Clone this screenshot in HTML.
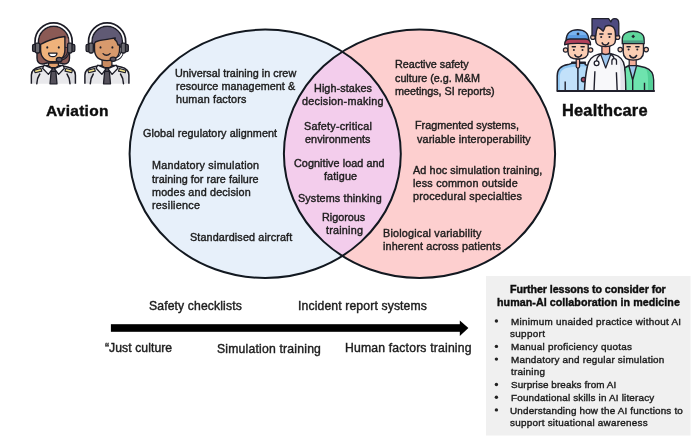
<!DOCTYPE html>
<html><head><meta charset="utf-8"><style>
html,body{margin:0;padding:0;background:#fff;}
body{width:700px;height:440px;position:relative;overflow:hidden;font-family:"Liberation Sans", sans-serif;}
.bg{position:absolute;left:0;top:0;}
.t{position:absolute;white-space:nowrap;-webkit-text-stroke:0.4px currentColor;will-change:transform;}
</style></head><body>
<svg class="bg" width="700" height="440" viewBox="0 0 700 440">
<defs><clipPath id="cl"><ellipse cx="265.2" cy="153.8" rx="135.6" ry="124.2"/></clipPath></defs>
<ellipse cx="265.2" cy="153.8" rx="135.6" ry="124.2" fill="#e7f0fa"/>
<ellipse cx="419.5" cy="153.8" rx="135.6" ry="124.2" fill="#fdcfcf"/>
<ellipse cx="419.5" cy="153.8" rx="135.6" ry="124.2" fill="#f3cdec" clip-path="url(#cl)"/>
<ellipse cx="265.2" cy="153.8" rx="135.6" ry="124.2" fill="none" stroke="#121820" stroke-width="2.0"/>
<ellipse cx="419.5" cy="153.8" rx="135.6" ry="124.2" fill="none" stroke="#121820" stroke-width="2.0"/>
<rect x="110.9" y="324.2" width="350" height="7.6" fill="#000"/>
<path d="M459.8,320.4 L468.4,328.1 L459.8,335.9 Z" fill="#000"/>
<rect x="486" y="276" width="204.5" height="159.5" fill="#f0f0f0"/>
<circle cx="496.4" cy="321.00" r="1.7" fill="#222"/><circle cx="496.4" cy="346.40" r="1.7" fill="#222"/><circle cx="496.4" cy="359.10" r="1.7" fill="#222"/><circle cx="496.4" cy="384.50" r="1.7" fill="#222"/><circle cx="496.4" cy="397.20" r="1.7" fill="#222"/><circle cx="496.4" cy="409.90" r="1.7" fill="#222"/>
<g transform="translate(0,0)"><path d="M31.4,83.8 L31.4,75 C31.4,70.5 34.5,68.3 39.5,67.1 L46.5,65.4 L60.5,65.4 L67.5,67.1 C72.5,68.3 75.4,70.5 75.4,75 L75.4,83.8" fill="#e9e9ec" stroke="#1c1c26" stroke-width="1.5"/><path d="M32.8,78 C32.8,74 34.5,72.5 38.5,73 C37.4,76 36.8,79 36.8,83.2 L32.8,83.2 Z" fill="#dcdce0"/><path d="M74,78 C74,74 72.3,72.5 68.3,73 C69.4,76 70,79 70,83.2 L74,83.2 Z" fill="#dcdce0"/><path d="M39.8,74 C38,76.5 37,79.5 36.8,83.8 M67,74 C68.8,76.5 69.8,79.5 70,83.8" stroke="#1c1c26" stroke-width="1.5" fill="none" stroke-linecap="round"/><path d="M34.3,70.2 L41,68.5 L41.8,71.1 L35.1,72.8 Z" fill="#f2e38c" stroke="#1c1c26" stroke-width="1.1" stroke-linejoin="round"/><path d="M72.5,70.2 L65.8,68.5 L65,71.1 L71.7,72.8 Z" fill="#f2e38c" stroke="#1c1c26" stroke-width="1.1" stroke-linejoin="round"/><path d="M48.6,57 L58.4,57 L58.4,66 L53.5,69 L48.6,66 Z" fill="#e3a06c" stroke="#1c1c26" stroke-width="1.3"/><path d="M51.2,70.8 L55.8,70.8 L57,83.8 L50,83.8 Z" fill="#56525c" stroke="#1c1c26" stroke-width="1.3" stroke-linejoin="round"/><path d="M50.8,67.6 L56.2,67.6 L55.4,71.3 L51.6,71.3 Z" fill="#56525c" stroke="#1c1c26" stroke-width="1.2" stroke-linejoin="round"/><path d="M44.2,65.2 L52.6,68.6 L48.4,74.4 L42.6,68.2 Z" fill="#f6f6f8" stroke="#1c1c26" stroke-width="1.3" stroke-linejoin="round"/><path d="M62.8,65.2 L54.4,68.6 L58.6,74.4 L64.4,68.2 Z" fill="#f6f6f8" stroke="#1c1c26" stroke-width="1.3" stroke-linejoin="round"/><path d="M37,44 L37,58 C37,62 39,64.2 43,64 L47,63 L60,63 L64,64 C67.5,64.2 69.5,62 69.5,58 L69.5,44 Z" fill="#8b5a55" stroke="#1c1c26" stroke-width="1.4" stroke-linejoin="round"/><path d="M38.5,47 L38.5,41.5 A15.2,15.2 0 0 1 68.9,41.5 L68.9,47 Z" fill="#8b5a55" stroke="#1c1c26" stroke-width="1.4"/><path d="M61.5,38.2 C64,40 65.2,43 65.4,47 L68.2,47 L68.2,38.6 Z" fill="#a3716a"/><path d="M61.9,40.6 C63,41.6 63.9,43 64.4,44.5" stroke="#1c1c26" stroke-width="1.1" fill="none" stroke-linecap="round"/><path d="M40.6,44.3 C47.5,40.6 58.5,37.3 64.9,36.5 L64.9,50 C64.9,57.5 59.8,61.8 52.6,61.8 C45.5,61.8 40.6,57.5 40.6,50 Z" fill="#efb27b" stroke="#1c1c26" stroke-width="1.4" stroke-linejoin="round"/><ellipse cx="47.3" cy="47.4" rx="0.95" ry="1.2" fill="#1c1c26"/><ellipse cx="58.8" cy="47.4" rx="0.95" ry="1.2" fill="#1c1c26"/><path d="M48.6,53.2 L57,53.2 C56.8,55.6 55,56.7 52.8,56.7 C50.6,56.7 48.8,55.6 48.6,53.2 Z" fill="#fff" stroke="#1c1c26" stroke-width="1.25" stroke-linejoin="round"/><path d="M68.3,51.5 C67.8,56 64.5,58.8 60.5,59.5" fill="none" stroke="#1c1c26" stroke-width="2.6"/><path d="M68.3,51.5 C67.8,56 64.5,58.8 60.5,59.5" fill="none" stroke="#6d5c62" stroke-width="0.8"/><ellipse cx="59.2" cy="59.6" rx="2.9" ry="2.3" fill="#5d5762" stroke="#1c1c26" stroke-width="1.3"/><path d="M35.9,44.5 L35.9,41.5 A17.7,17.7 0 0 1 71.3,41.5 L71.3,44.5" fill="none" stroke="#1c1c26" stroke-width="3.4"/><path d="M36.75,44.5 L36.75,41.5 A16.85,16.85 0 0 1 70.45,41.5 L70.45,44.5" fill="none" stroke="#fff" stroke-width="1.7"/><rect x="32.6" y="44.3" width="3.6" height="7.4" rx="1.5" fill="#4f4e55" stroke="#1c1c26" stroke-width="1.3"/><rect x="35.4" y="43.2" width="4.4" height="9.8" rx="1.4" fill="#6a6970" stroke="#1c1c26" stroke-width="1.3"/><rect x="71.2" y="44.3" width="3.6" height="7.4" rx="1.5" fill="#4f4e55" stroke="#1c1c26" stroke-width="1.3"/><rect x="67.6" y="43.2" width="4.4" height="9.8" rx="1.4" fill="#6a6970" stroke="#1c1c26" stroke-width="1.3"/></g>
<g transform="translate(53.5,0)"><path d="M31.4,83.8 L31.4,75 C31.4,70.5 34.5,68.3 39.5,67.1 L46.5,65.4 L60.5,65.4 L67.5,67.1 C72.5,68.3 75.4,70.5 75.4,75 L75.4,83.8" fill="#e9e9ec" stroke="#1c1c26" stroke-width="1.5"/><path d="M32.8,78 C32.8,74 34.5,72.5 38.5,73 C37.4,76 36.8,79 36.8,83.2 L32.8,83.2 Z" fill="#dcdce0"/><path d="M74,78 C74,74 72.3,72.5 68.3,73 C69.4,76 70,79 70,83.2 L74,83.2 Z" fill="#dcdce0"/><path d="M39.8,74 C38,76.5 37,79.5 36.8,83.8 M67,74 C68.8,76.5 69.8,79.5 70,83.8" stroke="#1c1c26" stroke-width="1.5" fill="none" stroke-linecap="round"/><path d="M34.3,70.2 L41,68.5 L41.8,71.1 L35.1,72.8 Z" fill="#f2e38c" stroke="#1c1c26" stroke-width="1.1" stroke-linejoin="round"/><path d="M72.5,70.2 L65.8,68.5 L65,71.1 L71.7,72.8 Z" fill="#f2e38c" stroke="#1c1c26" stroke-width="1.1" stroke-linejoin="round"/><path d="M48.6,57 L58.4,57 L58.4,66 L53.5,69 L48.6,66 Z" fill="#c98a60" stroke="#1c1c26" stroke-width="1.3"/><path d="M51.2,70.8 L55.8,70.8 L57,83.8 L50,83.8 Z" fill="#56525c" stroke="#1c1c26" stroke-width="1.3" stroke-linejoin="round"/><path d="M50.8,67.6 L56.2,67.6 L55.4,71.3 L51.6,71.3 Z" fill="#56525c" stroke="#1c1c26" stroke-width="1.2" stroke-linejoin="round"/><path d="M44.2,65.2 L52.6,68.6 L48.4,74.4 L42.6,68.2 Z" fill="#f6f6f8" stroke="#1c1c26" stroke-width="1.3" stroke-linejoin="round"/><path d="M62.8,65.2 L54.4,68.6 L58.6,74.4 L64.4,68.2 Z" fill="#f6f6f8" stroke="#1c1c26" stroke-width="1.3" stroke-linejoin="round"/><path d="M38.5,47 L38.5,41.5 A15.2,15.2 0 0 1 68.9,41.5 L68.9,47 Z" fill="#605a74" stroke="#1c1c26" stroke-width="1.4"/><path d="M41,45.6 L41,43.4 C41.4,42 42.6,41.4 44.4,41 C50,39.6 56,38.9 61.8,38 L61.2,39.4 C63,40.6 64.1,42.6 64.5,45 L66.1,45 L66.1,49 C66.1,57 61.2,60.6 53.5,60.6 C45.8,60.6 41,57 41,49 Z" fill="#d79a6d" stroke="#1c1c26" stroke-width="1.4" stroke-linejoin="round"/><ellipse cx="47" cy="47.4" rx="0.95" ry="1.2" fill="#1c1c26"/><ellipse cx="58.9" cy="47.4" rx="0.95" ry="1.2" fill="#1c1c26"/><path d="M49.6,53.6 C51.5,55.8 54.5,55.8 56.5,53.6" stroke="#1c1c26" stroke-width="1.35" fill="none" stroke-linecap="round"/><path d="M68.6,51.5 C68.6,56 65,59 61,59.4" fill="none" stroke="#1c1c26" stroke-width="3.4"/><path d="M68.6,51.5 C68.6,56 65,59 61,59.4" fill="none" stroke="#fff" stroke-width="1.5"/><ellipse cx="59.6" cy="59.3" rx="2.9" ry="2.1" fill="#5d5762" stroke="#1c1c26" stroke-width="1.3"/><path d="M35.9,44.5 L35.9,41.5 A17.7,17.7 0 0 1 71.3,41.5 L71.3,44.5" fill="none" stroke="#1c1c26" stroke-width="3.4"/><path d="M36.75,44.5 L36.75,41.5 A16.85,16.85 0 0 1 70.45,41.5 L70.45,44.5" fill="none" stroke="#fff" stroke-width="1.7"/><rect x="32.6" y="44.3" width="3.6" height="7.4" rx="1.5" fill="#4f4e55" stroke="#1c1c26" stroke-width="1.3"/><rect x="35.4" y="43.2" width="4.4" height="9.8" rx="1.4" fill="#6a6970" stroke="#1c1c26" stroke-width="1.3"/><rect x="71.2" y="44.3" width="3.6" height="7.4" rx="1.5" fill="#4f4e55" stroke="#1c1c26" stroke-width="1.3"/><rect x="67.6" y="43.2" width="4.4" height="9.8" rx="1.4" fill="#6a6970" stroke="#1c1c26" stroke-width="1.3"/></g>
<path d="M557.2,91 L557.2,76 C557.2,69 561.5,65.6 568,64.6 L571.8,63.4 L571.8,62.3 L585.2,62.3 L585.2,64.6 L589.5,66 L589.5,91 Z" fill="#8fc6f2" stroke="#20202c" stroke-width="1.5" stroke-linejoin="round"/><path d="M559.8,91 L559.8,77 C559.8,71.5 563,68.6 568.5,67.6 L577,66.5 L577,91 Z" fill="#c2e1fa"/><path d="M578.8,66.5 L586,66.5 L586,91 L578.8,91 Z" fill="#b4dbf8"/><path d="M571.8,63.4 L585.2,63.4" stroke="#20202c" stroke-width="1.1"/><path d="M577.9,63 L577.9,91 M565.2,81.4 L565.2,91" stroke="#20202c" stroke-width="1.4"/><path d="M576.2,59 L579.6,59 L579.6,66.6 C579.6,68.6 576.2,68.6 576.2,66.6 Z" fill="#f4b3a3" stroke="#20202c" stroke-width="1.2"/><circle cx="583.6" cy="79.6" r="2.3" fill="#a7445f" stroke="#20202c" stroke-width="1.2"/><circle cx="565.6" cy="50" r="2.2" fill="#fbcdb3" stroke="#20202c" stroke-width="1.2"/><circle cx="590.6" cy="50" r="2.2" fill="#fbcdb3" stroke="#20202c" stroke-width="1.2"/><path d="M568,43 L568,52 C568,56.8 572,59 578,59 C584,59 588.2,56.8 588.2,52 L588.2,43 Z" fill="#fbcdb3" stroke="#20202c" stroke-width="1.4"/><path d="M572.2,46.8 L575.4,46.8 M581,46.8 L584.2,46.8" stroke="#20202c" stroke-width="1.4" stroke-linecap="round"/><circle cx="573.9" cy="49.9" r="1" fill="#20202c"/><circle cx="582.5" cy="49.9" r="1" fill="#20202c"/><path d="M574.9000000000001,55.0 C576.1000000000001,57.9 580.3,57.9 581.5,55.0" stroke="#20202c" stroke-width="1.7" fill="none" stroke-linecap="round"/><path d="M566.2,40 C566.2,33 571,29.7 577.6,29.7 C584,29.7 588.8,33 588.8,40 Z" fill="#5c9ce2" stroke="#20202c" stroke-width="1.4"/><path d="M568.4,35 C569.5,32 573,30.9 577.6,30.9 C582,30.9 585.5,32 586.6,35 Z" fill="#79b3ee"/><path d="M578,32.2 L579.7,33.9 L578,35.6 L576.3,33.9 Z" fill="#20202c"/><path d="M564.6,44.8 C564.6,41 567,39 570,39 L585.5,39 C588.5,39 590.6,41 590.6,44.8 C585,43 571,43 564.6,44.8 Z" fill="#b3405a" stroke="#20202c" stroke-width="1.3" stroke-linejoin="round"/><path d="M625,91 L624.4,68 L629,65.5 L636.4,65.5 L645,67.5 C651,69.5 653.6,73 653.6,80 L653.6,91 Z" fill="#6ee3ae" stroke="#20202c" stroke-width="1.5" stroke-linejoin="round"/><path d="M646,69 C650.5,71 652.4,74 652.4,80 L652.4,90.5 L648,90.5 L648,80 C648,75 647.5,72 646,69 Z" fill="#52cf96"/><path d="M629.3,65.6 L632.8,77.5 L636.3,65.6 Z" fill="#9ec6ee"/><path d="M628.8,65.6 L632.7,80 L636.6,65.6 M632.7,80 L632.7,91 M644.5,82.7 L644.5,91" stroke="#20202c" stroke-width="1.4" fill="none" stroke-linejoin="round"/><path d="M629.2,58 L636.2,58 L636.2,65.6 L629.2,65.6 Z" fill="#f4ad98" stroke="#20202c" stroke-width="1.2"/><circle cx="620.2" cy="49.6" r="2.2" fill="#fbcdb3" stroke="#20202c" stroke-width="1.2"/><circle cx="646.2" cy="49.6" r="2.2" fill="#fbcdb3" stroke="#20202c" stroke-width="1.2"/><path d="M623.2,42 L623.2,52 C623.2,57.3 627,60.1 633.3,60.1 C639.6,60.1 643.5,57.3 643.5,52 L643.5,42 Z" fill="#fbcdb3" stroke="#20202c" stroke-width="1.4"/><path d="M627,46.8 L630.2,46.8 M635.8,46.8 L639,46.8" stroke="#20202c" stroke-width="1.4" stroke-linecap="round"/><circle cx="628.6" cy="49.5" r="1" fill="#20202c"/><circle cx="637.3" cy="49.5" r="1" fill="#20202c"/><path d="M629.9000000000001,55.6 C631.1000000000001,58.5 635.3,58.5 636.5,55.6" stroke="#20202c" stroke-width="1.7" fill="none" stroke-linecap="round"/><path d="M622.3,43.6 L622.3,39 C622.3,34 627,31.3 633.2,31.3 C639.4,31.3 644.1,34 644.1,39 L644.1,43.6 Z" fill="#5fd69c" stroke="#20202c" stroke-width="1.4"/><rect x="623" y="40.4" width="20.4" height="2.6" fill="#4e9c84"/><path d="M633.2,34.6 L635,36.4 L633.2,38.2 L631.4,36.4 Z" fill="#20202c"/><path d="M584.4,91.3 C585,80 586,72 587.4,66.2 C588.6,60.5 592,56 598,54.4 L602,53.5 L609.6,53.5 L613.6,54.4 C619.6,56 623.6,60 624.4,66.2 C625.2,72 625.6,80 625.8,91.3 Z" fill="#f8f8fa" stroke="#20202c" stroke-width="1.5" stroke-linejoin="round"/><path d="M619.5,58.5 C622.5,61.5 623.8,66 624.2,72 C624.6,80 624.6,86 624.7,90.4 L620.5,90.4 C620.5,80 620.5,68 619.5,58.5 Z" fill="#e2e2ea"/><path d="M600.5,53.8 L605.7,68 L611,53.8 Z" fill="#9fc8ef" stroke="#20202c" stroke-width="1.2" stroke-linejoin="round"/><path d="M594.9,71.2 L594,91 M616.4,72.2 L617.2,91" stroke="#20202c" stroke-width="1.4"/><path d="M600.6,54.6 C597.6,56.4 596.6,58.6 596.6,61" stroke="#20202c" stroke-width="1.3" fill="none"/><circle cx="596.6" cy="63.3" r="2.4" fill="#fff" stroke="#20202c" stroke-width="1.3"/><path d="M610.8,54.4 C612.6,55.4 613.8,56.8 614.2,58.6 M611.9,64.8 L611.9,61 A2.3,2.3 0 0 1 616.5,61 L616.5,64.8" stroke="#20202c" stroke-width="1.3" fill="none"/><path d="M601.9,46 L609.6,46 L609.6,53 C607,55 604.5,55 601.9,53 Z" fill="#f5ab96" stroke="#20202c" stroke-width="1.3"/><circle cx="592.9" cy="37.2" r="2.2" fill="#fbcbb0" stroke="#20202c" stroke-width="1.2"/><circle cx="617.6" cy="37.2" r="2.2" fill="#fbcbb0" stroke="#20202c" stroke-width="1.2"/><path d="M595.6,23 L595.6,40 C595.6,44.6 599.5,46.6 605.5,46.6 C611.5,46.6 615.5,44.6 615.5,40 L615.5,23 Z" fill="#fbcbb0" stroke="#20202c" stroke-width="1.4"/><path d="M592,18.6 L608.6,18.6 L610.9,22 C611.4,19.8 612.8,18.6 614.6,18.6 C617.4,18.6 618.8,20.6 618.8,23.4 L618.8,35.8 L615.6,35.8 C615.6,31 614.6,28 612.6,26.6 C610.2,25.2 607.2,25.4 605.3,26.4 C604.6,28.2 604,30 603.2,31.2 C601.6,29.6 599.6,28 597.7,27.2 C596.6,29.6 595.9,32.2 595.7,35.8 L592,35.8 Z" fill="#4e4a80" stroke="#20202c" stroke-width="1.3" stroke-linejoin="round"/><path d="M599.8,34 L603,34 M608.2,34 L611.4,34" stroke="#20202c" stroke-width="1.4" stroke-linecap="round"/><circle cx="601.2" cy="37" r="1.05" fill="#20202c"/><circle cx="609.5" cy="37" r="1.05" fill="#20202c"/><path d="M602.1999999999999,43.0 C603.4,45.9 607.4,45.9 608.6,43.0" stroke="#20202c" stroke-width="1.7" fill="none" stroke-linecap="round"/><path d="M556.8,91 L654.8,91" stroke="#20202c" stroke-width="2"/>
</svg>
<div class="t" style="top:67.23px;font-size:10.8px;line-height:12.96px;color:#1c1c1c;letter-spacing:0.023px;left:175.40px;">Universal training in crew</div>
<div class="t" style="top:80.23px;font-size:10.8px;line-height:12.96px;color:#1c1c1c;letter-spacing:0.044px;left:175.98px;">resource management &amp;</div>
<div class="t" style="top:93.23px;font-size:10.8px;line-height:12.96px;color:#1c1c1c;letter-spacing:0.165px;left:175.94px;">human factors</div>
<div class="t" style="top:127.23px;font-size:10.8px;line-height:12.96px;color:#1c1c1c;letter-spacing:0.080px;left:142.57px;">Global regulatory alignment</div>
<div class="t" style="top:159.23px;font-size:10.8px;line-height:12.96px;color:#1c1c1c;letter-spacing:0.235px;left:151.61px;">Mandatory simulation</div>
<div class="t" style="top:173.23px;font-size:10.8px;line-height:12.96px;color:#1c1c1c;letter-spacing:0.039px;left:152.29px;">training for rare failure</div>
<div class="t" style="top:186.23px;font-size:10.8px;line-height:12.96px;color:#1c1c1c;letter-spacing:0.157px;left:152.18px;">modes and decision</div>
<div class="t" style="top:199.23px;font-size:10.8px;line-height:12.96px;color:#1c1c1c;letter-spacing:0.259px;left:152.18px;">resilience</div>
<div class="t" style="top:231.23px;font-size:10.8px;line-height:12.96px;color:#1c1c1c;letter-spacing:0.128px;left:190.37px;">Standardised aircraft</div>
<div class="t" style="top:82.23px;font-size:10.8px;line-height:12.96px;color:#1c1c1c;letter-spacing:0.087px;left:313.51px;">High-stakes</div>
<div class="t" style="top:95.23px;font-size:10.8px;line-height:12.96px;color:#1c1c1c;letter-spacing:0.251px;left:301.76px;">decision-making</div>
<div class="t" style="top:120.23px;font-size:10.8px;line-height:12.96px;color:#1c1c1c;letter-spacing:0.214px;left:304.02px;">Safety-critical</div>
<div class="t" style="top:133.23px;font-size:10.8px;line-height:12.96px;color:#1c1c1c;letter-spacing:0.059px;left:304.74px;">environments</div>
<div class="t" style="top:157.23px;font-size:10.8px;line-height:12.96px;color:#1c1c1c;letter-spacing:0.070px;left:294.35px;">Cognitive load and</div>
<div class="t" style="top:170.23px;font-size:10.8px;line-height:12.96px;color:#1c1c1c;letter-spacing:0.100px;left:323.53px;">fatigue</div>
<div class="t" style="top:192.23px;font-size:10.8px;line-height:12.96px;color:#1c1c1c;letter-spacing:0.137px;left:297.62px;">Systems thinking</div>
<div class="t" style="top:211.23px;font-size:10.8px;line-height:12.96px;color:#1c1c1c;letter-spacing:-0.010px;left:321.62px;">Rigorous</div>
<div class="t" style="top:224.23px;font-size:10.8px;line-height:12.96px;color:#1c1c1c;letter-spacing:0.215px;left:325.54px;">training</div>
<div class="t" style="top:58.23px;font-size:10.8px;line-height:12.96px;color:#1c1c1c;letter-spacing:-0.020px;left:394.72px;">Reactive safety</div>
<div class="t" style="top:72.23px;font-size:10.8px;line-height:12.96px;color:#1c1c1c;letter-spacing:-0.017px;left:394.54px;">culture (e.g. M&amp;M</div>
<div class="t" style="top:85.23px;font-size:10.8px;line-height:12.96px;color:#1c1c1c;letter-spacing:-0.028px;left:394.58px;">meetings, SI reports)</div>
<div class="t" style="top:119.23px;font-size:10.8px;line-height:12.96px;color:#1c1c1c;letter-spacing:0.012px;left:415.42px;">Fragmented systems,</div>
<div class="t" style="top:133.23px;font-size:10.8px;line-height:12.96px;color:#1c1c1c;letter-spacing:0.111px;left:416.69px;">variable interoperability</div>
<div class="t" style="top:164.23px;font-size:10.8px;line-height:12.96px;color:#1c1c1c;letter-spacing:0.105px;left:413.22px;">Ad hoc simulation training,</div>
<div class="t" style="top:177.23px;font-size:10.8px;line-height:12.96px;color:#1c1c1c;letter-spacing:0.188px;left:413.27px;">less common outside</div>
<div class="t" style="top:190.23px;font-size:10.8px;line-height:12.96px;color:#1c1c1c;letter-spacing:0.213px;left:413.29px;">procedural specialties</div>
<div class="t" style="top:227.23px;font-size:10.8px;line-height:12.96px;color:#1c1c1c;letter-spacing:0.196px;left:382.62px;">Biological variability</div>
<div class="t" style="top:240.23px;font-size:10.8px;line-height:12.96px;color:#1c1c1c;letter-spacing:0.137px;left:383.42px;">inherent across patients</div>
<div class="t" style="top:101.78px;font-size:15.5px;line-height:18.6px;color:#0e0e0e;font-weight:700;letter-spacing:0.254px;left:45.71px;">Aviation</div>
<div class="t" style="top:100.93px;font-size:16.4px;line-height:19.68px;color:#0e0e0e;font-weight:700;letter-spacing:0.191px;left:561.80px;">Healthcare</div>
<div class="t" style="top:298.90px;font-size:12.2px;line-height:14.64px;color:#1c1c1c;letter-spacing:0.125px;left:149.44px;">Safety checklists</div>
<div class="t" style="top:298.90px;font-size:12.2px;line-height:14.64px;color:#1c1c1c;letter-spacing:0.133px;left:298.11px;">Incident report systems</div>
<div class="t" style="top:340.90px;font-size:12.2px;line-height:14.64px;color:#1c1c1c;letter-spacing:0.064px;left:105.18px;">&ldquo;Just culture</div>
<div class="t" style="top:341.90px;font-size:12.2px;line-height:14.64px;color:#1c1c1c;letter-spacing:0.202px;left:217.24px;">Simulation training</div>
<div class="t" style="top:340.90px;font-size:12.2px;line-height:14.64px;color:#1c1c1c;letter-spacing:0.185px;left:344.80px;">Human factors training</div>
<div class="t" style="top:283.32px;font-size:10.7px;line-height:12.84px;color:#0e0e0e;font-weight:700;letter-spacing:-0.073px;left:510.26px;">Further lessons to consider for</div>
<div class="t" style="top:296.32px;font-size:10.7px;line-height:12.84px;color:#0e0e0e;font-weight:700;letter-spacing:0.052px;left:497.00px;">human-AI collaboration in medicine</div>
<div class="t" style="top:316.08px;font-size:9.9px;line-height:11.88px;color:#1c1c1c;letter-spacing:0.273px;left:510.68px;">Minimum unaided practice without AI</div>
<div class="t" style="top:328.08px;font-size:9.9px;line-height:11.88px;color:#1c1c1c;letter-spacing:0.332px;left:510.22px;">support</div>
<div class="t" style="top:341.08px;font-size:9.9px;line-height:11.88px;color:#1c1c1c;letter-spacing:0.254px;left:510.68px;">Manual proficiency quotas</div>
<div class="t" style="top:354.08px;font-size:9.9px;line-height:11.88px;color:#1c1c1c;letter-spacing:0.216px;left:510.68px;">Mandatory and regular simulation</div>
<div class="t" style="top:366.08px;font-size:9.9px;line-height:11.88px;color:#1c1c1c;letter-spacing:0.221px;left:510.90px;">training</div>
<div class="t" style="top:379.08px;font-size:9.9px;line-height:11.88px;color:#1c1c1c;letter-spacing:0.095px;left:510.66px;">Surprise breaks from AI</div>
<div class="t" style="top:392.08px;font-size:9.9px;line-height:11.88px;color:#1c1c1c;letter-spacing:0.181px;left:510.64px;">Foundational skills in AI literacy</div>
<div class="t" style="top:405.08px;font-size:9.9px;line-height:11.88px;color:#1c1c1c;letter-spacing:0.180px;left:510.25px;">Understanding how the AI functions to</div>
<div class="t" style="top:417.08px;font-size:9.9px;line-height:11.88px;color:#1c1c1c;letter-spacing:0.249px;left:510.22px;">support situational awareness</div>
</body></html>
